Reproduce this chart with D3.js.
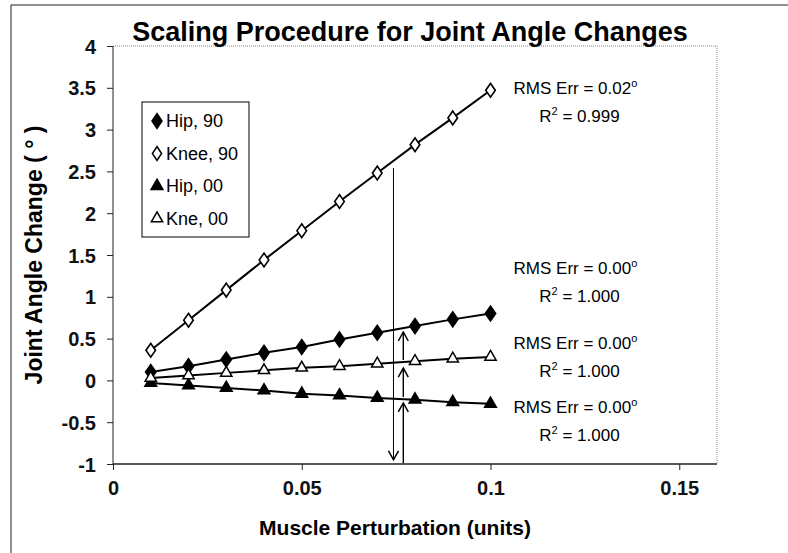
<!DOCTYPE html>
<html>
<head>
<meta charset="utf-8">
<script src="https://cdn.jsdelivr.net/npm/d3@7"></script>
<style>
  body { margin: 0; background: #fff; }
  svg { display: block; font-family: "Liberation Sans", Arial, sans-serif; }
</style>
</head>
<body>
<div id="chart"></div>
<script>
// perturbation steps (x) and joint angle changes per series
let perturbation = [0.01, 0.02, 0.03, 0.04, 0.05, 0.06, 0.07, 0.08, 0.09, 0.1];
let hip90 = [0.10, 0.17, 0.25, 0.33, 0.40, 0.49, 0.57, 0.65, 0.73, 0.80];
let knee90 = [0.36, 0.72, 1.08, 1.44, 1.79, 2.14, 2.48, 2.82, 3.14, 3.47];
let hip00 = [-0.03, -0.06, -0.09, -0.12, -0.16, -0.18, -0.21, -0.23, -0.26, -0.28];
let kne00 = [0.03, 0.06, 0.09, 0.12, 0.15, 0.17, 0.20, 0.23, 0.26, 0.28];

let seriesNames = ["Hip, 90", "Knee, 90", "Hip, 00", "Kne, 00"];
let xTicks = [0, 0.05, 0.1, 0.15];
let yTicks = [4, 3.5, 3, 2.5, 2, 1.5, 1, 0.5, 0, -0.5, -1];

// fit stats, first line sits at the given y value
let rmsErr = ["0.02", "0.00", "0.00", "0.00"];
let rSquared = ["0.999", "1.000", "1.000", "1.000"];
let statY = [3.5, 1.34, 0.45, -0.32];

// scaling arrows: one drop line, then three steps up
let dropArrow = { x: 0.0743, from: 2.54, to: -0.95 };
let riseX = 0.0769;
let riseFrom = [-0.99, -0.2, 0.244];
let riseTo = [-0.27, 0.148, 0.579];

function drawChart() {
    let width = 788,
        height = 553;
    let margin = { left: 113, top: 46, right: 717, bottom: 464 };

    let svg = d3.select("#chart").append("svg")
        .attr("width", width)
        .attr("height", height);

    let x = d3.scaleLinear().domain([0, 0.16]).range([margin.left, margin.right]);
    let y = d3.scaleLinear().domain([-1, 4]).range([margin.bottom, margin.top]);

    // outer frame (left + top only are visible in the scan)
    svg.append("path")
        .attr("d", "M11,553 L11,5 L788,5")
        .attr("fill", "none")
        .attr("stroke", "#222")
        .attr("stroke-width", 1);

    // plot area border, dotted on top and right
    svg.append("path")
        .attr("d", "M" + margin.left + "," + margin.top + " H" + margin.right + " V" + margin.bottom)
        .attr("fill", "none")
        .attr("stroke", "#888")
        .attr("stroke-dasharray", "1,1");

    let xAxis = svg.append("g")
        .attr("transform", "translate(0," + margin.bottom + ")")
        .call(d3.axisBottom(x).tickValues(xTicks).tickSize(6).tickPadding(11)
            .tickFormat(d => String(d)));
    xAxis.select(".domain").attr("stroke", "#222").attr("stroke-width", 1.5)
        .attr("d", "M" + margin.left + ",0H" + margin.right);

    let yAxis = svg.append("g")
        .attr("transform", "translate(" + margin.left + ",0)")
        .call(d3.axisLeft(y).tickValues(yTicks).tickSize(6).tickPadding(11)
            .tickFormat(d => String(d)));
    yAxis.select(".domain").attr("stroke", "#222")
        .attr("d", "M0," + margin.top + "V" + margin.bottom);

    svg.selectAll(".tick line").attr("stroke", "#222");
    svg.selectAll(".tick text")
        .attr("fill", "#111")
        .style("font-size", "20px")
        .style("font-weight", "bold")
        .style("font-family", "'Liberation Sans', Arial, sans-serif");
    yAxis.selectAll(".tick text").attr("dy", "0.35em");

    // title and axis titles
    svg.append("text")
        .attr("x", 410).attr("y", 41)
        .attr("text-anchor", "middle")
        .style("font-size", "27px").style("font-weight", "bold")
        .text("Scaling Procedure for Joint Angle Changes");

    svg.append("text")
        .attr("x", 395).attr("y", 535)
        .attr("text-anchor", "middle")
        .style("font-size", "21px").style("font-weight", "bold")
        .text("Muscle Perturbation (units)");

    svg.append("text")
        .attr("transform", "translate(42," + y(1.5) + ") rotate(-90)")
        .attr("text-anchor", "middle")
        .style("font-size", "23px").style("font-weight", "bold")
        .text("Joint Angle Change ( ° )");

    let series = [
        { name: seriesNames[0], values: hip90, shape: d3.symbolDiamond, filled: true, size: 70 },
        { name: seriesNames[1], values: knee90, shape: d3.symbolDiamond, filled: false, size: 60 },
        { name: seriesNames[2], values: hip00, shape: d3.symbolTriangle, filled: true, size: 60 },
        { name: seriesNames[3], values: kne00, shape: d3.symbolTriangle, filled: false, size: 55 }
    ];

    let line = d3.line()
        .x((d, i) => x(perturbation[i]))
        .y(d => y(d));

    series.forEach(function (s) {
        svg.append("path")
            .attr("d", line(s.values))
            .attr("fill", "none")
            .attr("stroke", "#000")
            .attr("stroke-width", 2);
    });

    // drop line + arrows sit behind the markers
    drawArrow(svg, x(dropArrow.x), y(dropArrow.from), y(dropArrow.to), 1);
    riseFrom.forEach(function (f, i) {
        drawArrow(svg, x(riseX), y(f), y(riseTo[i]), 1.4);
    });

    series.forEach(function (s) {
        svg.selectAll(null)
            .data(s.values)
            .enter().append("path")
            .attr("transform", (d, i) => "translate(" + x(perturbation[i]) + "," + y(d) + ")" +
                (s.shape === d3.symbolDiamond ? " scale(1.15,0.95)" : ""))
            .attr("d", d3.symbol().type(s.shape).size(s.size))
            .attr("fill", s.filled ? "#000" : "#fff")
            .attr("stroke", "#000")
            .attr("stroke-width", 1.5);
    });

    // stats labels
    rmsErr.forEach(function (r, i) {
        let cx = x(0.1225);
        let cy = y(statY[i]);
        let t1 = svg.append("text")
            .attr("x", cx).attr("y", cy + 6)
            .attr("text-anchor", "middle")
            .style("font-size", "17px");
        t1.append("tspan").text("RMS Err = " + r);
        t1.append("tspan").attr("dy", -7).style("font-size", "11px").text("o");

        let t2 = svg.append("text")
            .attr("x", cx + 4).attr("y", cy + 34)
            .attr("text-anchor", "middle")
            .style("font-size", "17px");
        t2.append("tspan").text("R");
        t2.append("tspan").attr("dy", -7).style("font-size", "11px").text("2");
        t2.append("tspan").attr("dy", 7).text(" = " + rSquared[i]);
    });

    // legend
    let legend = svg.append("g");
    legend.append("rect")
        .attr("x", 142).attr("y", 102)
        .attr("width", 107).attr("height", 135)
        .attr("fill", "#fff")
        .attr("stroke", "#000");
    series.forEach(function (s, i) {
        let ly = 121 + i * 32.5;
        legend.append("path")
            .attr("transform", "translate(157," + ly + ")" +
                (s.shape === d3.symbolDiamond ? " scale(1.1,0.95)" : ""))
            .attr("d", d3.symbol().type(s.shape).size(s.size))
            .attr("fill", s.filled ? "#000" : "#fff")
            .attr("stroke", "#000")
            .attr("stroke-width", 1.5);
        legend.append("text")
            .attr("x", 166).attr("y", ly + 6)
            .style("font-size", "18px")
            .text(s.name);
    });
}

function drawArrow(svg, px, y0, y1, w) {
    let dir = y1 > y0 ? 1 : -1;
    svg.append("line")
        .attr("x1", px).attr("x2", px)
        .attr("y1", y0).attr("y2", y1)
        .attr("stroke", "#000")
        .attr("stroke-width", w);
    svg.append("path")
        .attr("d", "M" + (px - 5) + "," + (y1 - dir * 9) + " L" + px + "," + y1 + " L" + (px + 5) + "," + (y1 - dir * 9))
        .attr("fill", "none")
        .attr("stroke", "#000")
        .attr("stroke-width", 1.5);
}

document.addEventListener("DOMContentLoaded", drawChart);
</script>
</body>
</html>
